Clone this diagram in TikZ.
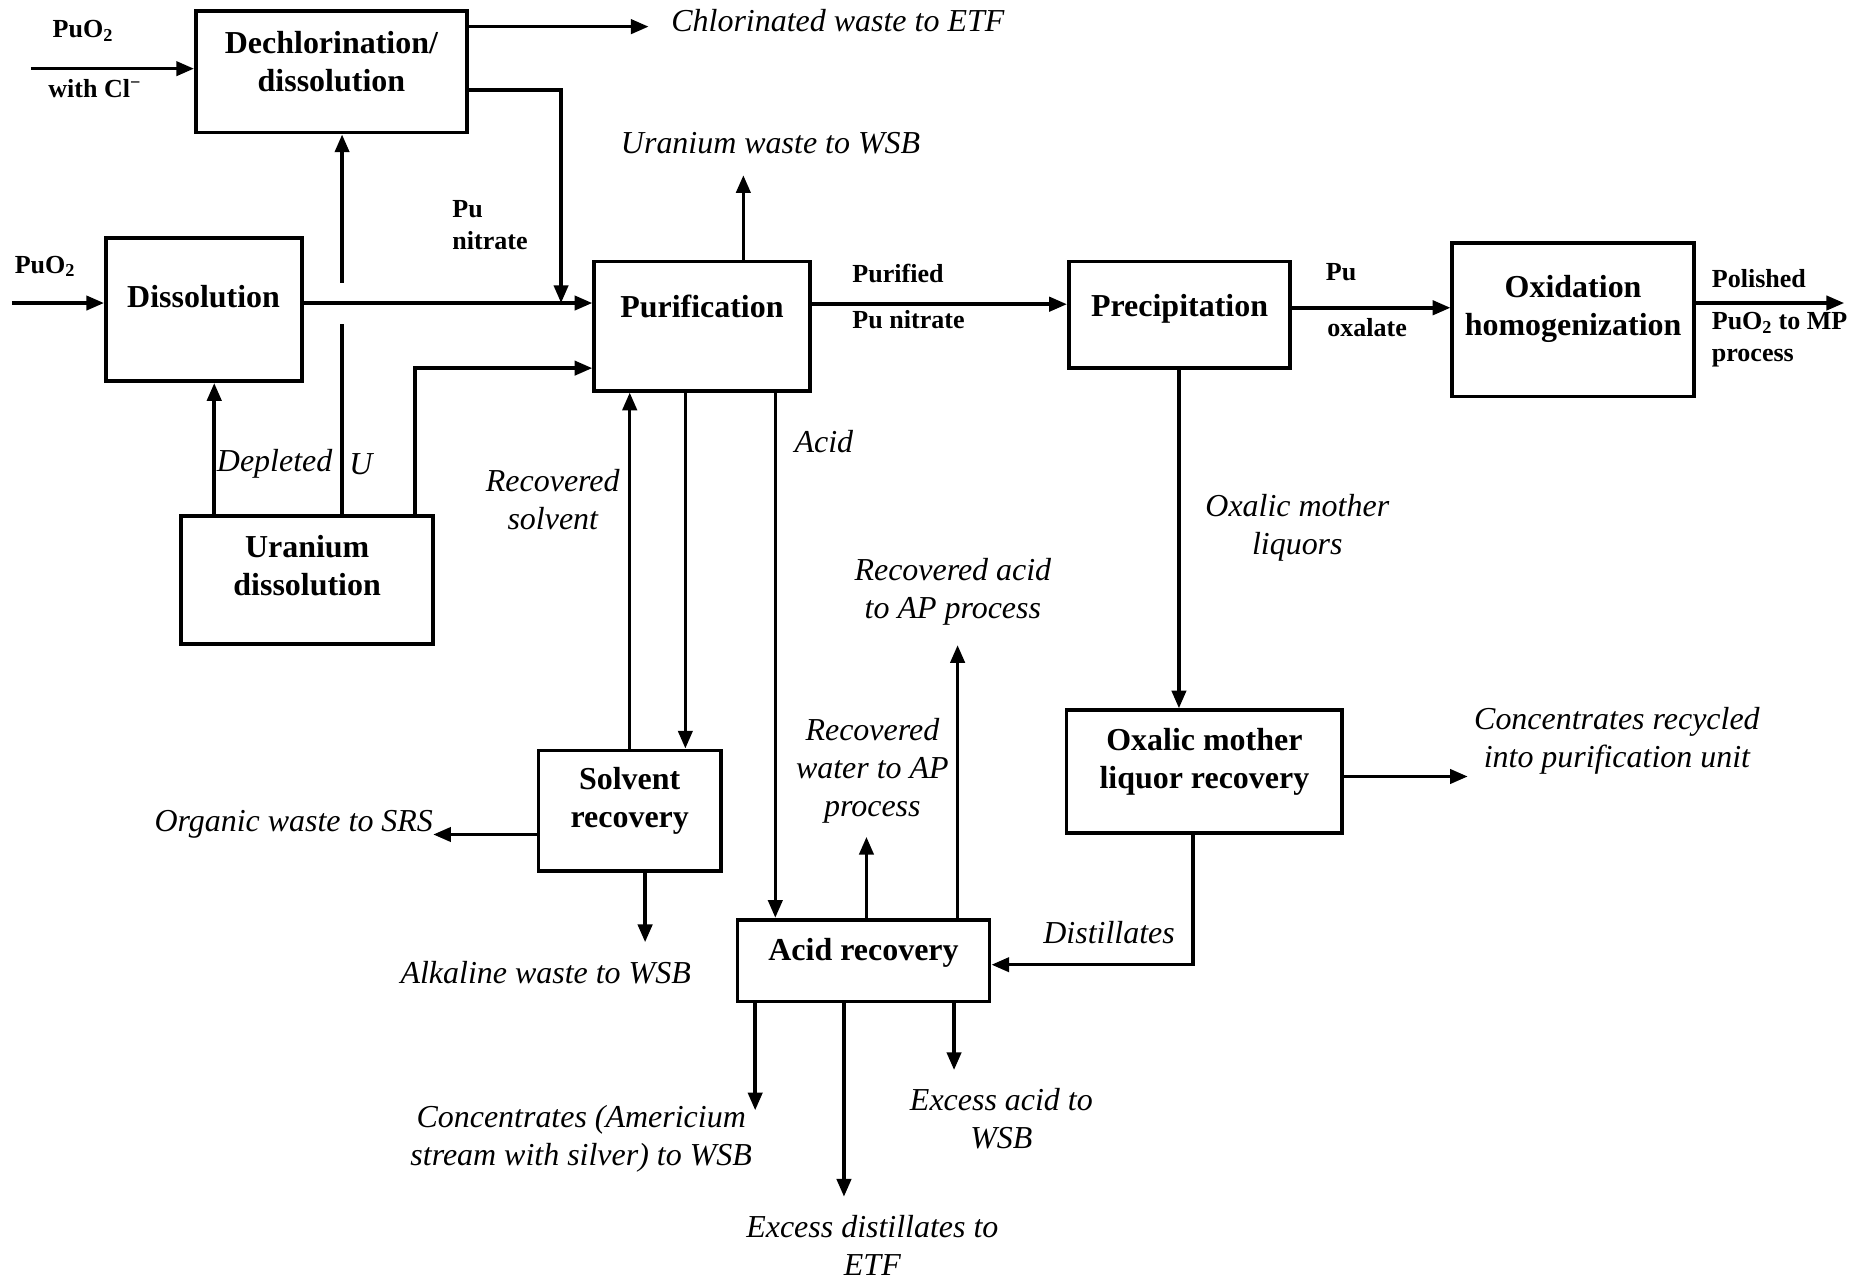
\documentclass[tikz,border=0pt]{standalone}
\usepackage{fontspec}
\setmainfont{Liberation Serif}
\usetikzlibrary{arrows.meta}
\tikzset{
  box/.style={draw, line width=3.2pt, inner sep=0pt},
  btxt/.style={font=\fontsize{27}{32}\selectfont\bfseries, align=center, inner sep=0pt},
  itxt/.style={font=\fontsize{27}{32}\selectfont\itshape, align=center, inner sep=0pt},
  stxt/.style={font=\fontsize{22}{27}\selectfont\bfseries, align=left, inner sep=0pt},
  flow/.style={line width=3pt, -{Triangle[length=15pt,width=12pt]}},
  plain/.style={line width=3pt},
}
\begin{document}
\begin{tikzpicture}[x=1pt,y=-1pt]
\fill[white] (0,0) rectangle (1568,1081);
\useasboundingbox (0,0) rectangle (1568,1081);

% ---------- process boxes ----------
\node[box, minimum width=229pt, minimum height=103pt] (dech) at (280,60.5) {};
\node[btxt] (dechT) at (280,52) {Dechlorination/\\dissolution};
\node[box, minimum width=165.5pt, minimum height=121pt] (diss) at (172.25,261.5) {};
\node[btxt] (dissT) at (172,251) {Dissolution};
\node[box, minimum width=213pt, minimum height=108pt] (ud) at (259.5,490) {};
\node[btxt] (udT) at (259.5,477.5) {Uranium\\dissolution};
\node[box, minimum width=182pt, minimum height=109pt] (pur) at (593,275.5) {};
\node[btxt] (purT) at (593,259) {Purification};
\node[box, minimum width=187pt, minimum height=90pt] (prec) at (996.5,266) {};
\node[btxt] (precT) at (996.5,261) {Precipitation};
\node[box, minimum width=204pt, minimum height=130pt] (oxid) at (1329,270) {};
\node[btxt] (oxidT) at (1329,261) {Oxidation\\homogenization};
\node[box, minimum width=154pt, minimum height=102pt] (sol) at (532,685) {};
\node[btxt] (solT) at (532,676.5) {Solvent\\recovery};
\node[box, minimum width=233pt, minimum height=104pt] (oml) at (1017.5,652) {};
\node[btxt] (omlT) at (1017.5,643.5) {Oxalic mother\\liquor recovery};
\node[box, minimum width=213pt, minimum height=69pt] (acid) at (729.5,811.5) {};
\node[btxt] (acidT) at (729.5,805) {Acid recovery};

% ---------- labels ----------
\node[stxt] (lPuA) at (70,26) {PuO\textsubscript{2}};
\node[stxt] (lCl) at (80,75) {with Cl\textsuperscript{\char"2212}};
\node[stxt] (lPuB) at (38,225) {PuO\textsubscript{2}};
\node[stxt, anchor=west] (lPuN) at (382,190) {Pu\\nitrate};
\node[stxt, anchor=west] (lPurif) at (720,231) {Purified};
\node[stxt, anchor=west] (lPurN) at (720,270) {Pu nitrate};
\node[stxt, anchor=west] (lPuO) at (1120,230) {Pu};
\node[stxt] (lOx) at (1155,277) {oxalate};
\node[stxt, anchor=west] (lPol) at (1446,235) {Polished};
\node[stxt, anchor=west] (lPuMP) at (1446,287) {PuO\textsubscript{2} to MP\\process};

\node[itxt, anchor=west] (lChl) at (567,17) {Chlorinated waste to ETF};
\node[itxt] (lUW) at (651,121) {Uranium waste to WSB};
\node[itxt] (lDep) at (232,392) {Depleted};
\node[itxt] (lU) at (305,392) {U};
\node[itxt] (lRS) at (467,422) {Recovered\\solvent};
\node[itxt] (lAcid) at (696,373) {Acid};
\node[itxt] (lOML) at (1096,446) {Oxalic mother\\liquors};
\node[itxt] (lRA) at (805,500) {Recovered acid\\to AP process};
\node[itxt] (lRW) at (737,651) {Recovered\\water to AP\\process};
\node[itxt, anchor=east] (lOrg) at (366,696) {Organic waste to SRS};
\node[itxt] (lAlk) at (461,822) {Alkaline waste to WSB};
\node[itxt] (lDist) at (937,788) {Distillates};
\node[itxt] (lCR) at (1366,626) {Concentrates recycled\\into purification unit};
\node[itxt] (lAm) at (491,962) {Concentrates (Americium\\stream with silver) to WSB};
\node[itxt] (lED) at (737,1052) {Excess distillates to\\ETF};
\node[itxt] (lEA) at (846,945) {Excess acid to\\WSB};

% ---------- helper coordinates ----------
\coordinate (inA) at (26,58);
\coordinate (inB) at (10,256);
\coordinate (chlE) at (548,22.5);
\coordinate (pnTop) at (474,76);
\coordinate (pnX) at (474,256);
\coordinate (vx) at (289,0);
\coordinate (gapLo) at (289,274);
\coordinate (gapHi) at (289,239);
\coordinate (dx) at (181,0);
\coordinate (ux) at (350.6,311);
\coordinate (uwE) at (628,148);
\coordinate (row1) at (0,257);
\coordinate (row2) at (0,260);
\coordinate (outE) at (1558,256);
\coordinate (c532) at (532,0);
\coordinate (c579) at (579,0);
\coordinate (c655) at (655,0);
\coordinate (c996) at (996,0);
\coordinate (orgE) at (366,705);
\coordinate (alkE) at (545,796);
\coordinate (crE) at (1240,656);
\coordinate (dB) at (1008,815);
\coordinate (rwE) at (732,707);
\coordinate (raE) at (809,545);
\coordinate (amE) at (638,938);
\coordinate (edE) at (713,1011);
\coordinate (eaE) at (806,904);

% ---------- connectors ----------
\draw[flow] (inA) -- (inA -| dech.west);
\draw[flow] (dech.east |- chlE) -- (chlE);
\draw[flow] (dech.east |- pnTop) -- (pnTop) -- (pnX);
\draw[flow] (inB) -- (inB -| diss.west);
\draw[flow] (diss.east |- pnX) -- (pnX -| pur.west);
\draw[plain] (vx |- ud.north) -- (gapLo);
\draw[flow] (gapHi) -- (vx |- dech.south);
\draw[flow] (dx |- ud.north) -- (dx |- diss.south);
\draw[flow] (ux |- ud.north) -- (ux) -- (ux -| pur.west);
\draw[flow] (uwE |- pur.north) -- (uwE);
\draw[flow] (pur.east |- row1) -- (prec.west |- row1);
\draw[flow] (prec.east |- row2) -- (oxid.west |- row2);
\draw[flow] (oxid.east |- outE) -- (outE);
\draw[flow] (c532 |- sol.north) -- (c532 |- pur.south);
\draw[flow] (c579 |- pur.south) -- (c579 |- sol.north);
\draw[flow] (c655 |- pur.south) -- (c655 |- acid.north);
\draw[flow] (sol.west |- orgE) -- (orgE);
\draw[flow] (alkE |- sol.south) -- (alkE);
\draw[flow] (c996 |- prec.south) -- (c996 |- oml.north);
\draw[flow] (oml.east |- crE) -- (crE);
\draw[flow] (dB |- oml.south) -- (dB) -- (dB -| acid.east);
\draw[flow] (rwE |- acid.north) -- (rwE);
\draw[flow] (raE |- acid.north) -- (raE);
\draw[flow] (amE |- acid.south) -- (amE);
\draw[flow] (edE |- acid.south) -- (edE);
\draw[flow] (eaE |- acid.south) -- (eaE);
\end{tikzpicture}
\end{document}
